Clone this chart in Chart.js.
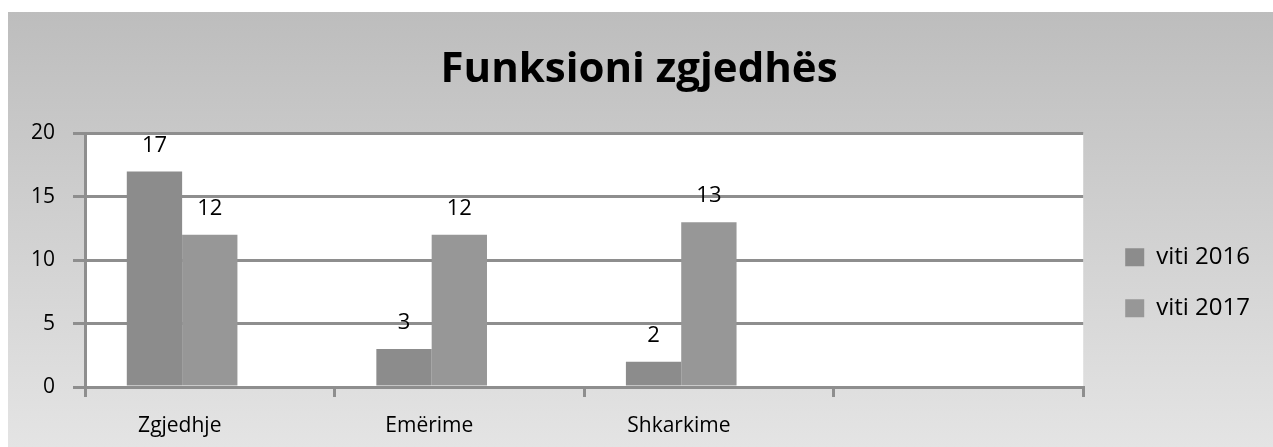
<!DOCTYPE html>
<html>
<head>
<meta charset="utf-8">
<script src="https://cdn.jsdelivr.net/npm/chart.js@4"></script>
<style>
  body { margin: 0; background: #fff; }
  #wrap {
    position: absolute; left: 8px; top: 12px; width: 1265px; height: 435px;
    background: linear-gradient(to bottom, #bdbdbd, #e4e4e4);
  }
</style>
</head>
<body>
<div id="wrap"><canvas id="myChart"></canvas></div>
<script>
const categories = ['Zgjedhje', 'Emërime', 'Shkarkime', ''];
const viti2016 = [17, 3, 2, null];
const viti2017 = [12, 12, 13, null];
const bosh = [null, null, null, null]; // third empty series in the source
const yTicks = [0, 5, 10, 15, 20];

const gray = '#8e8e8e';
const fam = "'Open Sans'";

// white plot area
const plotBg = {
    id: 'plotBg',
    beforeDraw(chart) {
        const a = chart.chartArea;
        const ctx = chart.ctx;
        ctx.save();
        ctx.fillStyle = '#ffffff';
        ctx.fillRect(a.left, a.top, a.right - a.left, a.bottom - a.top);
        ctx.restore();
    }
};

// value labels above bars
const valueLabels = {
    id: 'valueLabels',
    afterDatasetsDraw(chart) {
        const ctx = chart.ctx;
        ctx.save();
        ctx.font = '22px ' + fam;
        ctx.fillStyle = '#000';
        ctx.textAlign = 'center';
        ctx.textBaseline = 'middle';
        chart.data.datasets.forEach((ds, i) => {
            const meta = chart.getDatasetMeta(i);
            meta.data.forEach((bar, j) => {
                const v = ds.data[j];
                if (v === null || v === undefined) return;
                ctx.fillText(v, bar.x, bar.y - 26);
            });
        });
        ctx.restore();
    }
};

const config = {
    type: 'bar',
    data: {
        labels: categories,
        datasets: [
            { label: 'viti 2016', data: viti2016, backgroundColor: '#8c8c8c', borderWidth: 0 },
            { label: 'viti 2017', data: viti2017, backgroundColor: '#979797', borderWidth: 0 },
            { label: '', data: bosh, backgroundColor: '#a0a0a0', borderWidth: 0 },
        ]
    },
    options: {
        responsive: true,
        maintainAspectRatio: false,
        animation: false,
        categoryPercentage: 0.665,
        barPercentage: 1,
        layout: { padding: { left: 10, right: 13, bottom: 0, top: 0 } },
        plugins: {
            title: {
                display: true,
                text: 'Funksioni zgjedhës',
                color: '#000',
                font: { family: fam, size: 42, weight: 'bold' },
                padding: { top: 33, bottom: 38 }
            },
            legend: {
                position: 'right',
                // invisible title, only pushes the items down
                title: { display: true, text: 'x', color: 'rgba(0,0,0,0)', padding: { top: 92, bottom: 0 } },
                labels: {
                    color: '#000',
                    font: { family: fam, size: 24 },
                    boxWidth: 19,
                    boxHeight: 18,
                    padding: 27,
                    filter: item => item.text !== ''
                }
            },
            tooltip: { enabled: false }
        },
        scales: {
            x: {
                afterFit: s => { s.height = 60; },
                grid: {
                    offset: true,
                    drawOnChartArea: false,
                    drawTicks: true,
                    tickLength: 10,
                    color: gray,
                    lineWidth: 3
                },
                border: { display: true, color: gray, width: 3 },
                ticks: {
                    color: '#000',
                    font: { family: fam, size: 21 },
                    padding: 16,
                    labelOffset: -30
                }
            },
            y: {
                min: 0,
                max: 20,
                afterFit: s => { s.width = 67; },
                afterBuildTicks: axis => { axis.ticks = yTicks.map(v => ({ value: v })); },
                grid: { color: gray, lineWidth: 3, tickLength: 12 },
                border: { display: true, color: gray, width: 3 },
                ticks: {
                    color: '#000',
                    font: { family: fam, size: 21 },
                    padding: 18
                }
            },
            // empty spacer between plot and legend
            gap: {
                position: 'right',
                afterFit: s => { s.width = 15; },
                grid: { display: false },
                border: { display: false },
                ticks: { display: false }
            }
        }
    },
    plugins: [plotBg, valueLabels]
};

const myChart = new Chart(document.getElementById('myChart'), config);
</script>
</body>
</html>
